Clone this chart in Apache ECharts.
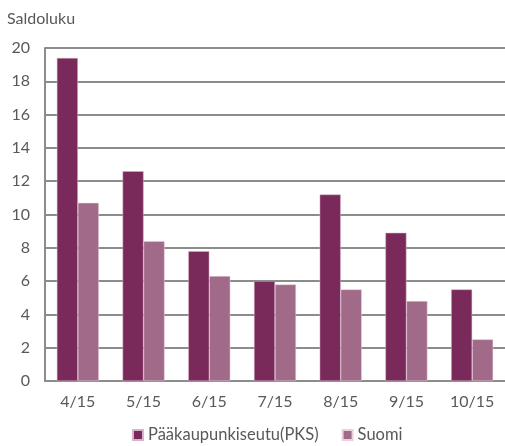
<!DOCTYPE html>
<html>
<head>
<meta charset="utf-8">
<script src="https://cdn.jsdelivr.net/npm/echarts@6/dist/echarts.min.js"></script>
<style>html,body{margin:0;padding:0;background:#fff;}#c{width:505px;height:446px;}</style>
</head>
<body>
<div id="c"></div>
<script>
var categories = ['4/15', '5/15', '6/15', '7/15', '8/15', '9/15', '10/15'];
var pks = [19.4, 12.6, 7.8, 6.0, 11.2, 8.9, 5.5];
var suomi = [10.7, 8.4, 6.3, 5.8, 5.5, 4.8, 2.5];
var seriesNames = ['Pääkaupunkiseutu(PKS)', 'Suomi'];
var yTitle = 'Saldoluku';

var font = 'Lato, "Open Sans", sans-serif';
var chart = echarts.init(document.getElementById('c'), null, {renderer: 'canvas'});
chart.setOption({
  animation: false,
  textStyle: {fontFamily: font},
  graphic: [{type: 'text', left: 7, top: 11, style: {text: yTitle, font: '16px ' + font, fill: '#595959'}}],
  legend: {
    top: 425, left: 132, itemWidth: 10, itemHeight: 10, itemGap: 23, padding: 0,
    textStyle: {fontFamily: font, fontSize: 16.5, color: '#595959', lineHeight: 20},
    icon: 'rect'
  },
  grid: {left: 45, top: 48, width: 462, height: 333, containLabel: false},
  xAxis: {
    type: 'category', data: categories,
    axisLine: {lineStyle: {color: '#8c8c8c', width: 2}},
    axisTick: {show: false},
    axisLabel: {color: '#595959', fontSize: 16, fontFamily: font, margin: 13}
  },
  yAxis: {
    type: 'value', min: 0, max: 20, interval: 2,
    axisLine: {show: true, lineStyle: {color: '#8c8c8c', width: 2}},
    axisTick: {show: false},
    splitLine: {lineStyle: {color: '#8c8c8c', width: 2}},
    axisLabel: {color: '#595959', fontSize: 16, fontFamily: font, margin: 15}
  },
  series: [
    {name: seriesNames[0], type: 'bar', data: pks, barWidth: 21, barGap: '0%',
     itemStyle: {color: '#7a2a5a', borderColor: '#d9b3cc', borderWidth: 0.5}},
    {name: seriesNames[1], type: 'bar', data: suomi, barWidth: 21,
     itemStyle: {color: '#a06a88', borderColor: '#ebd0e0', borderWidth: 0.5}}
  ]
});
</script>
</body>
</html>
